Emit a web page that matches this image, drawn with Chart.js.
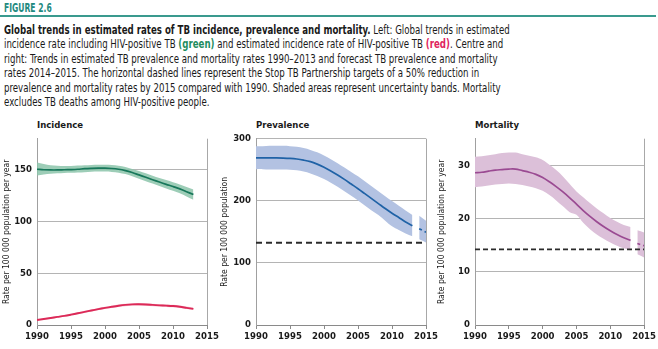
<!DOCTYPE html>
<html>
<head>
<meta charset="utf-8">
<script src="https://cdn.jsdelivr.net/npm/chart.js@4/dist/chart.umd.min.js"></script>
<style>
  html, body { margin: 0; padding: 0; background: #fff; }
  body { width: 658px; height: 349px; position: relative; overflow: hidden;
         font-family: "DejaVu Sans Condensed", "Liberation Sans Narrow", "Noto Sans", sans-serif; color: #1a1a1a; }
  #fig { position: absolute; left: 4px; top: 1px; font-size: 12px; font-weight: bold; color: #1f8a80;
         white-space: nowrap; transform-origin: left top; }
  #rule { position: absolute; left: 0; top: 15px; width: 656px; height: 1.5px; background: #3a9a8e; }
  #cap { position: absolute; left: 4px; top: 23px; margin: 0; font-size: 13px; line-height: 14.4px;
         white-space: nowrap; transform-origin: left top; }
  #cap .g { color: #1e8c5e; font-weight: bold; }
  #cap .r { color: #e0245e; font-weight: bold; }
  .ttl { position: absolute; top: 119px; font-size: 9.5px; font-weight: bold; }
  canvas { position: absolute; top: 128px; }
</style>
</head>
<body>
<div id="fig">FIGURE 2.6</div>
<div id="rule"></div>
<p id="cap"><b>Global trends in estimated rates of TB incidence, prevalence and mortality.</b> Left: Global trends in estimated<br>incidence rate including HIV-positive TB <span class="g">(green)</span> and estimated incidence rate of HIV-positive TB <span class="r">(red)</span>. Centre and<br>right: Trends in estimated TB prevalence and mortality rates 1990–2013 and forecast TB prevalence and mortality<br>rates 2014–2015. The horizontal dashed lines represent the Stop TB Partnership targets of a 50% reduction in<br>prevalence and mortality rates by 2015 compared with 1990. Shaded areas represent uncertainty bands. Mortality<br>excludes TB deaths among HIV-positive people.</p>

<div class="ttl" style="left:37px">Incidence</div>
<div class="ttl" style="left:256px">Prevalence</div>
<div class="ttl" style="left:475px">Mortality</div>

<canvas id="inc" width="225" height="221" style="left:0px"></canvas>
<canvas id="prev" width="225" height="221" style="left:215px"></canvas>
<canvas id="mort" width="228" height="221" style="left:430px"></canvas>

<script>
const years = [1990, 1991, 1992, 1993, 1994, 1995, 1996, 1997, 1998, 1999, 2000, 2001,
               2002, 2003, 2004, 2005, 2006, 2007, 2008, 2009, 2010, 2011, 2012, 2013];
const forecastYears = [2014, 2015];
const xTicks = [1990, 1995, 2000, 2005, 2010, 2015];

// incidence incl. HIV-positive TB (green)
const incBest = [150.5, 150.0, 149.8, 149.8, 150.0, 150.2, 150.5, 151.0, 151.3, 151.5, 151.5, 151.2,
                 150.5, 149.2, 147.3, 145.0, 142.7, 140.4, 138.1, 135.9, 133.8, 131.5, 128.8, 126.0];
const incLo = [144.5, 145.5, 146.2, 146.5, 146.8, 147.0, 147.3, 147.7, 148.0, 148.2, 148.2, 147.9,
               147.2, 145.8, 143.8, 141.4, 139.0, 136.6, 134.2, 131.9, 129.7, 127.2, 124.2, 121.0];
const incHi = [157.0, 155.5, 154.3, 153.8, 153.6, 153.7, 154.0, 154.4, 154.7, 154.9, 154.9, 154.6,
               153.9, 152.6, 150.8, 148.7, 146.5, 144.3, 142.1, 140.0, 138.0, 135.8, 133.3, 131.0];

// incidence of HIV-positive TB (red)
const hivBest = [4.8, 5.8, 6.8, 7.8, 8.8, 10.0, 11.3, 12.7, 14.0, 15.3, 16.5, 17.6,
                 18.6, 19.4, 19.9, 20.0, 19.8, 19.4, 19.0, 18.7, 18.3, 17.6, 16.6, 15.6];
const hivLo = [4.2, 5.2, 6.1, 7.0, 8.0, 9.1, 10.4, 11.7, 13.0, 14.2, 15.4, 16.5,
               17.4, 18.2, 18.7, 18.8, 18.6, 18.2, 17.8, 17.5, 17.1, 16.4, 15.4, 14.4];
const hivHi = [5.4, 6.4, 7.5, 8.6, 9.7, 10.9, 12.2, 13.7, 15.0, 16.4, 17.6, 18.7,
               19.8, 20.6, 21.1, 21.2, 21.0, 20.6, 20.2, 19.9, 19.5, 18.8, 17.8, 16.8];

// prevalence
const prevBest = [269, 269, 269, 269, 268.8, 268.3, 267.3, 265.5, 263, 259, 254, 248,
                  241.5, 234.5, 227, 219.5, 211.5, 203.5, 195.5, 187.5, 180, 173, 166, 160];
const prevLo = [251, 251, 250.5, 250.5, 250.5, 250, 249, 247, 244, 240, 235, 229,
                222.5, 215.5, 208, 200.5, 192.5, 184.5, 177, 168, 159, 153, 147.5, 143];
const prevHi = [288, 288, 288.5, 288.5, 288.5, 288, 287, 285, 282, 278, 273, 267,
                260.5, 253.5, 246.5, 239.5, 231.5, 223.5, 215.5, 207.5, 199.5, 192, 184.5, 177];
const prevFcBest = [155, 149.5];
const prevFcLo = [138, 133];
const prevFcHi = [176, 168];
const prevTarget = 132.5;

// mortality (excl. HIV-positive)
const mortBest = [28.6, 28.7, 28.9, 29.1, 29.2, 29.3, 29.3, 29.0, 28.7, 28.3, 27.7, 26.9,
                  26.0, 25.0, 23.9, 22.7, 21.5, 20.4, 19.4, 18.5, 17.7, 17.0, 16.4, 15.9];
const mortLo = [25.9, 26.0, 26.2, 26.4, 26.5, 26.6, 26.5, 26.3, 26.0, 25.7, 25.2, 24.4,
                23.4, 22.3, 21.2, 20.7, 19.2, 18.0, 17.0, 16.2, 15.5, 14.9, 14.4, 14.0];
const mortHi = [31.6, 31.7, 31.9, 32.1, 32.3, 32.4, 32.4, 32.1, 31.8, 31.5, 31.0, 30.1,
                29.1, 27.9, 26.5, 25.1, 24.0, 22.9, 21.9, 21.0, 20.1, 19.4, 18.8, 18.4];
const mortFcBest = [15.3, 14.9];
const mortFcLo = [13.3, 12.7];
const mortFcHi = [17.8, 17.4];
const mortTarget = 14.2;

// squeeze the caption block to the column width
const fitWidth = (el, w) => {
  el.style.transform = `scaleX(${w / el.scrollWidth})`;
};
fitWidth(document.getElementById('fig'), 48);
fitWidth(document.getElementById('cap'), 506);

const FONT = '"DejaVu Sans Condensed", "Liberation Sans Narrow", "Noto Sans", sans-serif';
Chart.defaults.font.family = FONT;
Chart.defaults.color = '#1a1a1a';

const pts = (xs, ys) => xs.map((x, i) => ({ x, y: ys[i] }));

const line = (xs, ys, color, extra = {}) => ({
  data: pts(xs, ys),
  borderColor: color,
  borderWidth: 1.7,
  pointRadius: 0,
  tension: 0.35,
  fill: false,
  ...extra
});

// upper edge fills down to the lower edge that follows it
const band = (xs, lo, hi, color) => [
  { data: pts(xs, hi), borderWidth: 0, pointRadius: 0, tension: 0.35, fill: '+1', backgroundColor: color },
  { data: pts(xs, lo), borderWidth: 0, pointRadius: 0, tension: 0.35, fill: false }
];

const target = (y, width, dash) => ({
  data: [{ x: 1990, y }, { x: 2015, y }],
  borderColor: '#2b2b2b',
  borderWidth: width,
  borderDash: dash,
  pointRadius: 0,
  fill: false
});

const makePanel = (id, cfg) => new Chart(document.getElementById(id), {
  type: 'line',
  data: { datasets: cfg.datasets },
  options: {
    responsive: false,
    animation: false,
    layout: { padding: { left: 0, right: cfg.padRight, top: cfg.padTop, bottom: 0 } },
    plugins: { legend: { display: false }, tooltip: { enabled: false } },
    scales: {
      x: {
        type: 'linear',
        min: 1990,
        max: 2015,
        afterBuildTicks: scale => { scale.ticks = xTicks.map(v => ({ value: v })); },
        afterFit: scale => { scale.height = 24; },
        ticks: { font: { size: 9.5, weight: 'bold' }, padding: 2, maxRotation: 0, callback: v => String(v) },
        border: { color: '#8a8a8a', width: 1 },
        grid: {
          color: c => (c.tick && c.tick.value === 2015 ? '#a8a8a8' : 'rgba(0,0,0,0)'),
          tickColor: '#8a8a8a',
          tickLength: 4,
          lineWidth: 1
        }
      },
      y: {
        min: 0,
        max: cfg.yMax,
        afterBuildTicks: scale => { scale.ticks = cfg.yTicks.map(v => ({ value: v })); },
        afterFit: scale => { scale.width = cfg.yWidth; },
        ticks: { font: { size: 9.5, weight: 'bold' }, padding: 5, callback: v => String(v) },
        border: { color: '#a0a0a0', width: 1 },
        grid: { color: '#b4b4b4', drawTicks: false, lineWidth: 1 },
        title: {
          display: true,
          text: cfg.yTitle,
          font: { size: 8.5 },
          color: '#1a1a1a',
          padding: { top: cfg.titlePad, bottom: 0 }
        }
      }
    }
  }
});

makePanel('inc', {
  yMax: 180,
  yTicks: [0, 50, 100, 150],
  yWidth: 37,
  padRight: 18,
  padTop: 7,
  titlePad: 1.8,
  yTitle: 'Rate per 100 000 population per year',
  datasets: [
    line(years, incBest, '#17775a'),
    line(years, hivBest, '#dc2a58', { borderWidth: 1.9 }),
    ...band(years, incLo, incHi, 'rgba(140, 196, 170, 0.85)'),
    ...band(years, hivLo, hivHi, 'rgba(240, 170, 190, 0.6)')
  ]
});

makePanel('prev', {
  yMax: 300,
  yTicks: [0, 100, 200, 300],
  yWidth: 41,
  padRight: 14,
  padTop: 10,
  titlePad: 4.8,
  yTitle: 'Rate per 100 000 population',
  datasets: [
    line(years, prevBest, '#1f62a6'),
    line(forecastYears, prevFcBest, '#1f62a6', { tension: 0, borderDash: [3, 3] }),
    target(prevTarget, 2, [6, 4]),
    ...band(years, prevLo, prevHi, '#b3c2e2'),
    ...band(forecastYears, prevFcLo, prevFcHi, '#b3c2e2')
  ]
});

makePanel('mort', {
  yMax: 35,
  yTicks: [0, 10, 20, 30],
  yWidth: 45,
  padRight: 13,
  padTop: 9,
  titlePad: 6.8,
  yTitle: 'Rate per 100 000 population per year',
  datasets: [
    line(years, mortBest, '#9a4a92'),
    line(forecastYears, mortFcBest, '#9a4a92', { tension: 0, borderDash: [3, 3] }),
    target(mortTarget, 1.6, [5, 3]),
    ...band(years, mortLo, mortHi, '#dcc0d9'),
    ...band(forecastYears, mortFcLo, mortFcHi, '#dcc0d9')
  ]
});
</script>
</body>
</html>
